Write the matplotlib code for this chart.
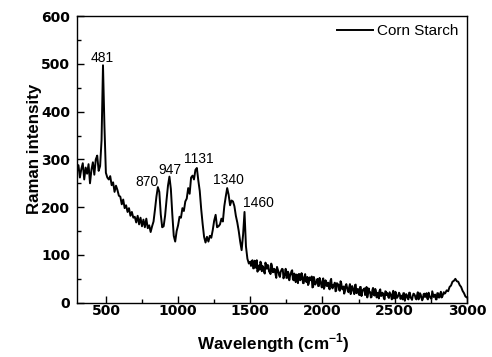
import numpy as np
import matplotlib
matplotlib.use("Agg")
import matplotlib.pyplot as plt
from matplotlib.ticker import MultipleLocator

plt.rcParams['font.family'] = ['Liberation Sans', 'DejaVu Sans']

# main spectrum, sampled every 10 cm-1
wavenumber = np.arange(300, 3001, 10)
intensity = [
    275, 288, 262, 280, 292, 258, 283, 270, 290, 250,  # 300-390
    278, 294, 268, 300, 308, 276, 286, 340, 497, 370,  # 400-490
    272, 262, 258, 265, 246, 252, 232, 245, 236, 224,  # 500-590
    222, 206, 216, 198, 204, 190, 198, 182, 190, 178,  # 600-690
    180, 168, 182, 164, 178, 160, 174, 158, 176, 156,  # 700-790
    162, 148, 160, 170, 195, 222, 242, 232, 185, 158,  # 800-890
    160, 182, 215, 245, 264, 238, 185, 140, 128, 150,  # 900-990
    162, 180, 178, 198, 192, 212, 218, 240, 228, 262,  # 1000-1090
    266, 258, 278, 282, 256, 234, 196, 165, 138, 126,  # 1100-1190
    138, 128, 140, 136, 152, 172, 184, 158, 160, 164,  # 1200-1290
    176, 170, 202, 222, 240, 226, 204, 214, 212, 202,  # 1300-1390
    182, 168, 150, 128, 110, 142, 190, 118, 92, 82,    # 1400-1490
    86,                                                # 1500
    87, 72, 88, 73, 65, 78, 86, 66, 74, 61,            # 1510-1600
    77, 79, 65, 60, 77, 64, 70, 52, 70, 57,            # 1610-1700
    64, 71, 51, 60, 52, 65, 47, 60, 68, 47,            # 1710-1800
    50, 59, 41, 60, 49, 55, 41, 60, 43, 37,            # 1810-1900
    53, 47, 32, 54, 38, 45, 35, 52, 39, 46,            # 1910-2000
    29, 47, 35, 42, 28, 50, 30, 36, 24, 41,            # 2010-2100
    38, 25, 41, 28, 19, 36, 32, 22, 39, 23,            # 2110-2200
    30, 18, 38, 25, 19, 33, 14, 27, 30, 19,            # 2210-2300
    11, 30, 22, 12, 31, 15, 25, 17, 9, 28,             # 2310-2400
    15, 19, 7, 23, 20, 10, 18, 7, 25, 10,              # 2410-2500
    18, 12, 21, 8, 15, 20, 4, 18, 9, 21,               # 2510-2600
    11, 6, 19, 15, 7, 22, 10, 17, 5, 18,               # 2610-2700
    12, 20, 7, 15, 9, 24, 12, 17, 7, 20,               # 2710-2800
    11, 23, 13, 22, 20, 26, 24, 33, 36, 44,            # 2810-2900
    46, 50, 45, 44, 37, 33, 25, 20, 13, 11,            # 2910-3000
]

# extra readings of the noisy tail, in between the 10 cm-1 grid
tail_wavenumber = np.arange(1505, 2846, 10)
tail_intensity = [
    77, 89, 72, 83, 89, 74, 69, 83, 77, 65,   # 1505-1595
    84, 71, 78, 65, 82, 64, 71, 59, 75, 65,   # 1605-1695
    54, 68, 70, 57, 71, 52, 62, 56, 66, 49,   # 1705-1795
    61, 43, 54, 60, 47, 62, 41, 54, 45, 54,   # 1805-1895
    40, 48, 55, 33, 48, 42, 50, 35, 44, 32,   # 1905-1995
    51, 34, 45, 36, 30, 46, 33, 37, 42, 25,   # 2005-2095
    39, 27, 45, 29, 34, 23, 39, 25, 33, 18,   # 2105-2195
    35, 26, 37, 20, 29, 16, 33, 22, 28, 16,   # 2205-2295
    33, 18, 22, 11, 26, 17, 29, 11, 21, 25,   # 2305-2395
    14, 21, 9, 24, 16, 12, 22, 14, 19, 9,     # 2405-2495
    23, 10, 15, 18, 11, 7, 20, 12, 15, 7,     # 2505-2595
    21, 9, 14, 18, 9, 16, 7, 20, 11, 8,       # 2605-2695
    19, 14, 9, 21, 12, 8, 18, 16, 7, 20,      # 2705-2795
    11, 19, 11, 18, 19,                       # 2805-2845
]

peak_labels = ['481', '870', '947', '1131', '1340', '1460']
peak_text_x = [473, 785, 944, 1145, 1346, 1553]
peak_text_y = [512, 252, 278, 301, 257, 209]

x_all = np.concatenate([wavenumber, tail_wavenumber])
y_all = np.concatenate([np.asarray(intensity, float), np.asarray(tail_intensity, float)])
order = np.argsort(x_all)
x_all, y_all = x_all[order], y_all[order]

fig = plt.figure(figsize=(4.92, 3.57), dpi=100)
ax = fig.add_axes([0.1565, 0.152, 0.7925, 0.803])

ax.plot(x_all, y_all, color='black', lw=1.4, label='Corn Starch')

for lab, tx, ty in zip(peak_labels, peak_text_x, peak_text_y):
    ax.text(tx, ty, lab, ha='center', va='center', fontsize=10)

ax.set_xlim(300, 3000)
ax.set_ylim(0, 600)
ax.xaxis.set_major_locator(MultipleLocator(500))
ax.xaxis.set_minor_locator(MultipleLocator(250))
ax.yaxis.set_major_locator(MultipleLocator(100))
ax.yaxis.set_minor_locator(MultipleLocator(50))
ax.tick_params(which='both', direction='in', top=False, right=False)
ax.tick_params(which='major', length=5, width=1)
ax.tick_params(which='minor', length=3, width=1)
ax.tick_params(axis='x', pad=1.0)
ax.tick_params(axis='y', pad=5)
for lab in ax.get_xticklabels() + ax.get_yticklabels():
    lab.set_fontweight('bold')
    lab.set_fontsize(10)
    lab.set_family('DejaVu Sans')
for s in ax.spines.values():
    s.set_linewidth(1)

ax.set_xlabel('Wavelength (cm$^{\\mathregular{-1}}$)', fontsize=12.3, fontweight='bold',
              va='center')
ax.xaxis.set_label_coords(0.503, -0.1406)
ax.set_ylabel('Raman intensity', fontsize=12.2, fontweight='bold', va='center')
ax.yaxis.set_label_coords(-0.110, 0.538)

ax.legend(loc='upper right', frameon=False, fontsize=11, handlelength=2.3,
          handletextpad=0.3, borderaxespad=0.15)

fig.savefig('out.png', dpi=100)
